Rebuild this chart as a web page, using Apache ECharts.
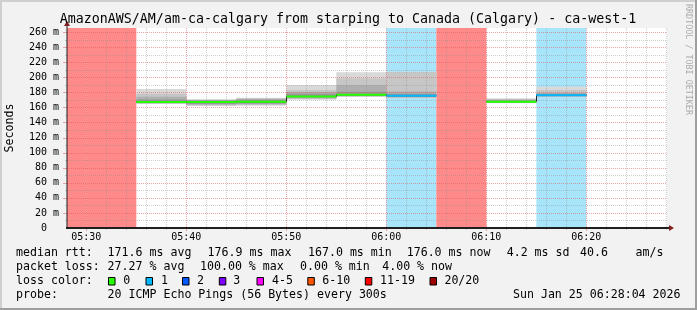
<!DOCTYPE html>
<html><head><meta charset="utf-8">
<script src="https://cdn.jsdelivr.net/npm/echarts@6/dist/echarts.min.js"></script>
<style>html,body{margin:0;padding:0;background:#f2f2f2}#c{width:697px;height:310px}</style>
</head><body><div id="c"></div>
<script>
// ---------------- data ----------------
const axisStart = '05:28:04';
const axisEnd = '06:28:04';
const xTickLabels = ['05:30', '05:40', '05:50', '06:00', '06:10', '06:20'];
const yTickValues = [0, 20, 40, 60, 80, 100, 120, 140, 160, 180, 200, 220, 240, 260];
const stepStart = ['05:25', '05:30', '05:35', '05:40', '05:45', '05:50', '05:55', '06:00', '06:05', '06:10', '06:15'];
const median    = [null, null, 167.0, 167.0, 167.5, 174.5, 176.9, 175.5, null, 167.6, 176.0];
const lossCount = [20, 20, 0, 0, 0, 0, 0, 1, 20, 0, 1];
// smoke bands (outer -> inner), [low, high] in ms per step
const smokeBand1 = [null, null, [164.5, 184.4], [161.8, 170.7], [162.3, 172.9], [170.2, 189.7], [173.8, 206.5], [172.0, 207.4], null, [165.4, 172.0], [173.4, 187.5]];
const smokeBand2 = [null, null, [165.0, 178.0], [162.5, 170.0], [163.0, 172.0], [171.0, 183.0], [174.5, 198.6], [172.5, 207.0], null, [166.0, 171.0], [174.0, 183.0]];
const smokeBand3 = [null, null, [165.5, 174.0], [163.5, 169.5], [164.0, 171.0], [172.0, 180.5], [175.0, 189.7], [173.5, 181.0], null, [166.5, 170.0], [174.5, 179.5]];
const smokeBand4 = [null, null, [166.0, 170.5], [164.5, 169.0], [165.0, 170.0], [173.0, 178.0], [175.5, 180.8], [174.0, 178.0], null, [167.0, 169.5], [175.0, 178.0]];
const lossLegendLabels = ['0', '1', '2', '3', '4-5', '6-10', '11-19', '20/20'];
const lossLegendColors = ['#26ff00', '#00b8ff', '#0059ff', '#7e00ff', '#ff00ff', '#ff5500', '#ff0000', '#a00000'];
const titleText = 'AmazonAWS/AM/am-ca-calgary from starping to Canada (Calgary) - ca-west-1';

// ---------------- helpers ----------------
const STEP_MIN = 5;
function toMin(s) { const p = s.split(':').map(Number); return p[0] * 60 + p[1] + (p[2] || 0) / 60; }
function fmtMin(v) { const m = Math.round(v); const h = Math.floor(m / 60), mm = m % 60; return String(h).padStart(2, '0') + ':' + String(mm).padStart(2, '0'); }
const X_MIN = toMin(axisStart), X_MAX = toMin(axisEnd);
const Y_MAX = 265.3;
function lossColor(n) {
  if (n <= 0) return lossLegendColors[0];
  if (n === 1) return lossLegendColors[1];
  if (n === 2) return lossLegendColors[2];
  if (n === 3) return lossLegendColors[3];
  if (n <= 5) return lossLegendColors[4];
  if (n <= 10) return lossLegendColors[5];
  if (n <= 19) return lossLegendColors[6];
  return lossLegendColors[7];
}
function lossBg(n) { return n >= 20 ? '#ff8a8a' : '#a8e4fa'; }
const bandColors = ['#d9d9d9', '#c6c6c6', '#afafaf', '#979797'];
const MINOR = 'rgba(143,143,143,0.42)';
const MAJOR = 'rgba(222,80,80,0.5)';

// ---------------- series data ----------------
const bgData = [];
const smokeData = [];
const blackData = [];
const colorData = [];
[smokeBand1, smokeBand2, smokeBand3, smokeBand4].forEach((band, b) => {
  band.forEach((r, i) => { if (r) { const s = toMin(stepStart[i]); smokeData.push([s, s + STEP_MIN, r[0], r[1], b]); } });
});
stepStart.forEach((t, i) => {
  const s = toMin(t);
  if (lossCount[i] > 0) bgData.push([s, s + STEP_MIN, 0, Y_MAX, lossCount[i]]);
  if (median[i] != null) {
    const prev = (i > 0 && median[i - 1] != null) ? median[i - 1] : -1;
    blackData.push([s, s + STEP_MIN, median[i], median[i], prev]);
    colorData.push([s, s + STEP_MIN, median[i], median[i], lossCount[i]]);
  }
});

function clipRect(p0, p1, cs) {
  return echarts.graphic.clipRectByRect({ x: p0[0], y: p0[1], width: p1[0] - p0[0], height: p1[1] - p0[1] }, cs);
}
function renderBg(params, api) {
  const r = clipRect(api.coord([api.value(0), api.value(3)]), api.coord([api.value(1), api.value(2)]), params.coordSys);
  if (!r) return;
  return { type: 'rect', shape: r, style: { fill: lossBg(api.value(4)) } };
}
function renderSmoke(params, api) {
  const r = clipRect(api.coord([api.value(0), api.value(3)]), api.coord([api.value(1), api.value(2)]), params.coordSys);
  if (!r) return;
  return { type: 'rect', shape: r, style: { fill: bandColors[api.value(4)] } };
}
function renderBlack(params, api) {
  const p0 = api.coord([api.value(0), api.value(2)]);
  const p1 = api.coord([api.value(1), api.value(2)]);
  const children = [{ type: 'line', shape: { x1: p0[0], y1: p0[1], x2: p1[0], y2: p1[1] }, style: { stroke: '#202020', lineWidth: 1 } }];
  const prev = api.value(4);
  if (prev >= 0) {
    const q = api.coord([api.value(0), prev]);
    children.push({ type: 'line', shape: { x1: Math.round(p0[0]) + 0.5, y1: q[1], x2: Math.round(p0[0]) + 0.5, y2: p0[1] }, style: { stroke: '#202020', lineWidth: 1 } });
  }
  return { type: 'group', children };
}
function renderColor(params, api) {
  const p0 = api.coord([api.value(0), api.value(2)]);
  const p1 = api.coord([api.value(1), api.value(2)]);
  return { type: 'line', shape: { x1: p0[0], y1: p0[1], x2: p1[0], y2: p1[1] }, style: { stroke: lossColor(api.value(4)), lineWidth: 2 } };
}
function renderGrid(params, api) {
  const cs = params.coordSys;
  const L = cs.x, T = cs.y, R = cs.x + cs.width, B = cs.y + cs.height;
  const ch = [];
  const px = v => Math.round(api.coord([v, 0])[0]) + 0.5;
  const py = v => Math.round(api.coord([X_MIN, v])[1]) + 0.5;
  // vertical lines every 2 minutes, major every 10
  for (let m = Math.ceil(X_MIN / 2) * 2; m <= X_MAX; m += 2) {
    const major = (m % 10 === 0);
    const x = px(m);
    if (x <= L + 1) continue;
    ch.push({ type: 'line', shape: { x1: x, y1: T, x2: x, y2: B }, style: { stroke: major ? MAJOR : MINOR, lineWidth: 1, lineDash: [1, 1] } });
    ch.push({ type: 'line', shape: { x1: x, y1: B, x2: x, y2: B + (major ? 3 : 2) }, style: { stroke: major ? MAJOR : MINOR, lineWidth: 1 } });
  }
  // horizontal lines every 10, major every 20
  for (let v = 10; v <= Y_MAX; v += 10) {
    const major = (v % 20 === 0);
    const y = py(v);
    ch.push({ type: 'line', shape: { x1: L, y1: y, x2: R, y2: y }, style: { stroke: major ? MAJOR : MINOR, lineWidth: 1, lineDash: [1, 1] } });
    ch.push({ type: 'line', shape: { x1: L - (major ? 4 : 2), y1: y, x2: L, y2: y }, style: { stroke: major ? MAJOR : MINOR, lineWidth: 1 } });
  }
  // axes
  ch.push({ type: 'line', shape: { x1: L, y1: B, x2: L, y2: T - 2 }, style: { stroke: '#1f1f1f', lineWidth: 1 } });
  ch.push({ type: 'line', shape: { x1: L - 1, y1: B, x2: R + 3, y2: B }, style: { stroke: '#1f1f1f', lineWidth: 2 } });
  ch.push({ type: 'polygon', shape: { points: [[R + 2, B - 3], [R + 7, B], [R + 2, B + 3]] }, style: { fill: '#7f1f1f' } });
  ch.push({ type: 'polygon', shape: { points: [[L - 3, T - 2], [L, T - 7], [L + 3, T - 2]] }, style: { fill: '#7f1f1f' } });
  return { type: 'group', children: ch };
}

// ---------------- graphics (frame + texts) ----------------
const MONO = '"DejaVu Sans Mono", monospace';
const LEG_FONT = '11.6px ' + MONO;
function txt(x, y, text, opts) {
  opts = opts || {};
  return { type: 'text', x, y, rotation: opts.rotation || 0, z: 100,
    style: { text, font: opts.font || LEG_FONT, fill: opts.fill || '#000', textAlign: opts.align || 'left', textVerticalAlign: 'middle' } };
}
const graphics = [
  { type: 'rect', z: -10, shape: { x: 0, y: 0, width: 697, height: 2 }, style: { fill: '#cfcfcf' } },
  { type: 'rect', z: -10, shape: { x: 0, y: 0, width: 2, height: 310 }, style: { fill: '#cfcfcf' } },
  { type: 'rect', z: -10, shape: { x: 0, y: 308, width: 697, height: 2 }, style: { fill: '#9e9e9e' } },
  { type: 'rect', z: -10, shape: { x: 695, y: 0, width: 2, height: 310 }, style: { fill: '#9e9e9e' } },
  txt(348, 19.5, titleText, { font: '13.3px ' + MONO, align: 'center' }),
  txt(10, 128, 'Seconds', { rotation: Math.PI / 2, align: 'center' }),
  txt(688, 4, 'RRDTOOL / TOBI OETIKER', { rotation: -Math.PI / 2, font: '8.4px ' + MONO, fill: '#ababab' }),
  txt(16, 253.3, 'median rtt:'), txt(107.6, 253.3, '171.6 ms avg'), txt(207.6, 253.3, '176.9 ms max'),
  txt(308, 253.3, '167.0 ms min'), txt(406.7, 253.3, '176.0 ms now'), txt(506.7, 253.3, '4.2 ms sd'),
  txt(580, 253.3, '40.6'), txt(635.6, 253.3, 'am/s'),
  txt(16, 267.3, 'packet loss:'), txt(107.6, 267.3, '27.27 % avg'), txt(200, 267.3, '100.00 % max'),
  txt(300, 267.3, '0.00 % min'), txt(382.2, 267.3, '4.00 % now'),
  txt(16, 281.3, 'loss color:'),
  txt(16, 295.3, 'probe:'), txt(107.6, 295.3, '20 ICMP Echo Pings (56 Bytes) every 300s'),
  txt(680.5, 295.3, 'Sun Jan 25 06:28:04 2026', { align: 'right' })
];
const boxX = [108.5, 146, 182.5, 219.3, 257, 307.8, 365.3, 430];
const boxTextX = [123.3, 161, 197, 233.3, 272, 322.2, 380, 444.4];
lossLegendLabels.forEach((lab, i) => {
  graphics.push({ type: 'rect', z: 100, shape: { x: boxX[i], y: 277.5, width: 6.5, height: 7.5 }, style: { fill: lossLegendColors[i], stroke: '#000', lineWidth: 1 } });
  graphics.push(txt(boxTextX[i], 281.3, lab));
});

// ---------------- chart ----------------
const chart = echarts.init(document.getElementById('c'), null, { renderer: 'canvas', width: 697, height: 310 });
const customBase = { type: 'custom', silent: true, encode: { x: [0, 1], y: [2, 3] } };
chart.setOption({
  animation: false,
  backgroundColor: '#f2f2f2',
  textStyle: { fontFamily: MONO },
  grid: { left: 67, top: 28, width: 600, height: 200, show: true, backgroundColor: '#ffffff', borderWidth: 0 },
  xAxis: {
    type: 'value', min: X_MIN, max: X_MAX,
    axisLine: { show: false }, axisTick: { show: false }, splitLine: { show: false },
    axisLabel: { customValues: xTickLabels.map(toMin), formatter: v => fmtMin(v), margin: 4.7, color: '#000', fontSize: 10, fontFamily: MONO }
  },
  yAxis: {
    type: 'value', min: 0, max: Y_MAX,
    axisLine: { show: false }, axisTick: { show: false }, splitLine: { show: false },
    axisLabel: { customValues: yTickValues, formatter: v => (v === 0 ? '0\u00a0\u00a0' : v + ' m'), margin: 8, color: '#000', fontSize: 10, fontFamily: MONO }
  },
  graphic: graphics,
  series: [
    Object.assign({}, customBase, { z: 1, renderItem: renderBg, data: bgData }),
    Object.assign({}, customBase, { z: 2, renderItem: renderSmoke, data: smokeData }),
    Object.assign({}, customBase, { z: 3, renderItem: renderGrid, data: [[X_MIN + 1, X_MIN + 1, 1, 1]] }),
    Object.assign({}, customBase, { z: 4, renderItem: renderBlack, data: blackData }),
    Object.assign({}, customBase, { z: 5, renderItem: renderColor, data: colorData })
  ]
});
</script></body></html>
